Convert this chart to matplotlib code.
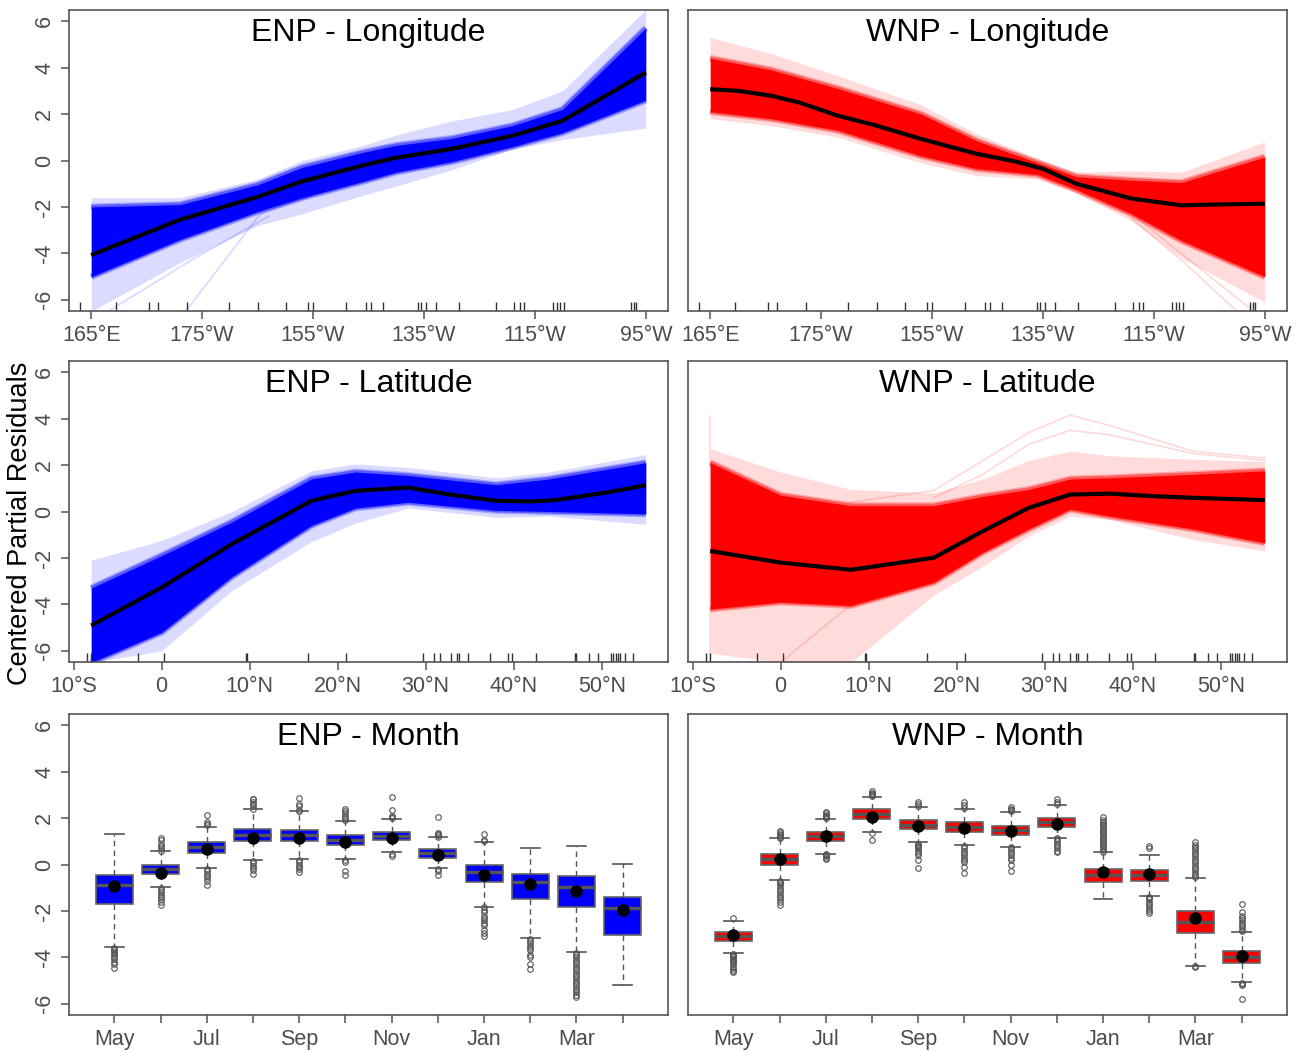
import numpy as np
import matplotlib.pyplot as plt
from matplotlib import transforms

plt.rcParams['font.family'] = ['Liberation Sans', 'DejaVu Sans']

#
# Longitude (degrees east, 0-360)
#
lon_ticks = [165, 185, 205, 225, 245, 265]
lon_labels = ["165°E", "175°W", "155°W", "135°W", "115°W", "95°W"]
lon_rug = [163.0, 169.5, 175.5, 177.1, 182.2, 189.8, 195.1, 200.2, 204.1, 205.0,
           210.9, 214.6, 215.5, 217.7, 224.0, 224.5, 225.4, 227.1, 231.3, 238.0,
           241.2, 242.3, 243.0, 248.2, 249.0, 249.6, 250.2, 262.3, 262.8, 263.3]

enp_lon_x = [165, 181, 195, 203, 214, 220, 230, 241, 250, 265]
enp_lon_fit = [-4.07, -2.55, -1.57, -0.9, -0.21, 0.12, 0.5, 1.07, 1.71, 3.79]
enp_lon_light_hi = [-1.6, -1.6, -0.8, 0.0, 0.65, 1.1, 1.7, 2.2, 3.0, 6.5]
enp_lon_dense_hi = [-2.0, -1.9, -1.05, -0.3, 0.35, 0.65, 0.95, 1.5, 2.2, 5.7]
enp_lon_dense_lo = [-5.0, -3.4, -2.2, -1.6, -0.9, -0.5, -0.05, 0.6, 1.2, 2.6]
enp_lon_light_lo = [-6.5, -4.4, -2.8, -2.3, -1.5, -1.1, -0.4, 0.5, 0.9, 1.4]
enp_lon_stray_x = [[168, 183, 197], [182, 195.5, 205]]
enp_lon_stray_y = [[-6.5, -4.3, -2.4], [-6.5, -2.3, -1.5]]

wnp_lon_x = [165, 170, 176, 181, 188, 195, 203, 213, 220, 225, 231, 241, 250, 255, 265]
wnp_lon_fit = [3.07, 3.0, 2.79, 2.5, 1.93, 1.5, 0.93, 0.29, -0.04, -0.36, -1.0,
               -1.64, -1.93, -1.9, -1.86]
wnp_lon_env_x = [165, 176, 188, 203, 213, 224, 231, 241, 250, 265]
wnp_lon_light_hi = [5.3, 4.6, 3.65, 2.4, 1.15, 0.1, -0.5, -0.45, -0.5, 0.8]
wnp_lon_dense_hi = [4.4, 3.9, 3.1, 2.0, 0.85, -0.1, -0.7, -0.85, -0.95, 0.15]
wnp_lon_dense_lo = [2.1, 1.8, 1.3, 0.2, -0.35, -0.6, -1.25, -2.3, -3.45, -5.0]
wnp_lon_light_lo = [1.8, 1.5, 1.0, -0.1, -0.65, -0.8, -1.4, -2.6, -4.2, -6.1]
wnp_lon_stray_x = [[241, 250, 260], [241, 252, 263]]
wnp_lon_stray_y = [[-2.5, -4.3, -6.5], [-2.3, -4.4, -6.5]]

#
# Latitude
#
lat_ticks = [-10, 0, 10, 20, 30, 40, 50]
lat_labels = ["10°S", "0", "10°N", "20°N", "30°N", "40°N", "50°N"]
lat_rug = [-8.5, -8.0, -2.7, 0.3, 9.6, 9.7, 16.6, 20.9, 29.7, 30.9, 31.6, 32.9,
           33.6, 33.8, 34.8, 37.3, 39.3, 39.8, 42.5, 46.9, 47.1, 48.5, 49.6,
           51.1, 51.3, 51.6, 51.8, 52.1, 52.6, 53.5]

enp_lat_x = [-8, 0, 8, 17, 22, 28, 32.4, 38, 42, 44.7, 50.6, 55]
enp_lat_fit = [-4.91, -3.27, -1.4, 0.46, 0.89, 1.03, 0.75, 0.46, 0.43, 0.49, 0.82, 1.13]
enp_lat_env_x = [-8, 0, 8, 17, 22, 28, 38, 44, 55]
enp_lat_light_hi = [-2.1, -1.25, 0.0, 1.75, 2.05, 1.9, 1.45, 1.7, 2.45]
enp_lat_dense_hi = [-3.3, -1.9, -0.45, 1.4, 1.7, 1.55, 1.15, 1.4, 2.1]
enp_lat_dense_lo = [-6.5, -5.2, -2.8, -0.6, 0.15, 0.4, 0.05, 0.0, -0.1]
enp_lat_light_lo = [-6.5, -6.0, -3.4, -1.3, -0.5, 0.15, -0.25, -0.2, -0.55]

wnp_lat_x = [-8, 0, 8, 17.4, 23, 28.2, 32.9, 37.4, 42.3, 46.8, 55]
wnp_lat_fit = [-1.7, -2.2, -2.51, -1.99, -0.84, 0.16, 0.73, 0.77, 0.66, 0.59, 0.49]
wnp_lat_env_x = [-8, 0, 8, 17.4, 23, 28.2, 32.9, 37.4, 46.8, 55]
wnp_lat_light_hi = [2.7, 1.7, 0.95, 0.8, 1.4, 2.2, 2.6, 2.4, 2.25, 2.15]
wnp_lat_dense_hi = [2.1, 0.7, 0.25, 0.25, 0.65, 0.95, 1.4, 1.45, 1.6, 1.75]
wnp_lat_dense_lo = [-4.2, -3.9, -4.05, -3.05, -1.75, -0.75, 0.1, -0.2, -0.75, -1.35]
wnp_lat_light_lo = [-6.1, -6.5, -6.5, -3.6, -2.35, -1.05, -0.2, -0.35, -1.2, -1.7]
wnp_lat_stray_x = [[-8, -8, 0, 8], [8, 17.4, 23, 28.2, 32.9, 37.4, 46.8, 55],
                   [17.4, 23, 28.2, 32.9, 37.4, 46.8, 55], [0, 8, 12]]
wnp_lat_stray_y = [[4.1, -6.5, -6.5, -6.5], [0.4, 0.9, 2.2, 3.4, 4.15, 3.7, 2.6, 2.3],
                   [0.6, 1.6, 2.9, 3.5, 3.3, 2.5, 2.2], [-6.5, -4.0, -2.8]]

#
# Month boxplots (May .. Apr)
#
months = ["May", "Jun", "Jul", "Aug", "Sep", "Oct", "Nov", "Dec", "Jan", "Feb", "Mar", "Apr"]

enp_q1 = [-1.71, -0.42, 0.5, 1.0, 1.0, 0.82, 1.05, 0.3, -0.76, -1.5, -1.82, -3.04]
enp_med = [-0.89, -0.2, 0.76, 1.26, 1.29, 1.05, 1.23, 0.5, -0.34, -0.75, -0.96, -1.86]
enp_q3 = [-0.46, 0.0, 0.97, 1.55, 1.5, 1.26, 1.4, 0.66, -0.04, -0.39, -0.5, -1.39]
enp_whislo = [-3.57, -0.99, -0.17, 0.19, 0.22, 0.22, 0.52, -0.17, -1.82, -3.15, -3.78, -5.19]
enp_whishi = [1.33, 0.57, 1.62, 2.39, 2.29, 1.89, 1.94, 1.19, 0.95, 0.72, 0.79, 0.01]
enp_mean = [-0.92, -0.36, 0.66, 1.16, 1.16, 0.95, 1.16, 0.39, -0.47, -0.85, -1.12, -1.94]
enp_fliers = [
    [-3.6, -3.65, -3.7, -3.75, -3.8, -3.9, -4.0, -4.05, -4.2, -4.3, -4.45],
    [0.6, 0.7, 0.8, 0.9, 1.05, 1.15, -1.0, -1.1, -1.2, -1.3, -1.4, -1.5, -1.6, -1.75],
    [1.7, 1.75, 1.85, 2.13, -0.2, -0.3, -0.4, -0.5, -0.6, -0.7, -0.87],
    [2.4, 2.5, 2.6, 2.7, 2.8, 2.83, 0.15, 0.05, -0.05, -0.15, -0.25, -0.42],
    [2.3, 2.35, 2.5, 2.6, 2.87, 0.2, 0.1, 0.0, -0.1, -0.2, -0.33],
    [1.9, 2.0, 2.1, 2.2, 2.3, 2.4, 0.2, 0.1, -0.3, -0.47],
    [2.0, 2.05, 2.1, 2.35, 2.9, 0.45, 0.37],
    [1.2, 1.25, 1.3, 1.35, 2.04, -0.2, -0.3, -0.45],
    [1.0, 1.05, 1.3, -1.85, -1.95, -2.05, -2.2, -2.3, -2.4, -2.5, -2.6, -2.8, -2.95, -3.07],
    [-3.2, -3.3, -3.4, -3.5, -3.6, -3.7, -3.9, -4.0, -4.3, -4.5],
    [-3.8, -3.9, -4.0, -4.1, -4.2, -4.3, -4.4, -4.5, -4.6, -4.7, -4.8, -4.9, -5.0,
     -5.1, -5.2, -5.3, -5.4, -5.5, -5.6, -5.7],
    [],
]

wnp_q1 = [-3.28, -0.03, 1.03, 1.96, 1.51, 1.39, 1.29, 1.62, -0.75, -0.69, -2.94, -4.26]
wnp_med = [-3.07, 0.22, 1.22, 2.18, 1.71, 1.61, 1.48, 1.84, -0.46, -0.44, -2.47, -4.0]
wnp_q3 = [-2.9, 0.44, 1.4, 2.37, 1.91, 1.82, 1.66, 2.02, -0.2, -0.22, -1.99, -3.71]
wnp_whislo = [-3.83, -0.67, 0.47, 1.4, 0.95, 0.82, 0.76, 1.16, -1.49, -1.35, -4.36, -5.08]
wnp_whishi = [-2.42, 1.12, 1.98, 2.91, 2.48, 2.41, 2.24, 2.55, 0.54, 0.42, -0.6, -2.9]
wnp_mean = [-3.04, 0.23, 1.23, 2.06, 1.66, 1.58, 1.45, 1.76, -0.34, -0.43, -2.29, -3.94]
wnp_fliers = [
    [-2.32, -3.85, -3.9, -3.95, -4.0, -4.05, -4.1, -4.15, -4.2, -4.3, -4.4, -4.5, -4.6, -4.65],
    [1.15, 1.2, 1.25, 1.3, 1.38, 1.45, -0.7, -0.75, -0.8, -0.9, -1.0, -1.1, -1.2, -1.3,
     -1.4, -1.5, -1.6, -1.73],
    [2.0, 2.05, 2.1, 2.15, 2.2, 2.25, 0.45, 0.4, 0.35, 0.3, 0.22],
    [2.95, 3.0, 3.05, 3.1, 3.15, 1.35, 1.05],
    [2.5, 2.6, 2.7, 0.9, 0.85, 0.8, 0.75, 0.7, 0.6, 0.5, 0.4, 0.2, -0.13],
    [2.45, 2.55, 2.7, 0.8, 0.7, 0.6, 0.5, 0.4, 0.3, 0.2, 0.1, -0.1, -0.35],
    [2.3, 2.35, 2.4, 2.46, 0.75, 0.7, 0.6, 0.5, 0.4, 0.3, 0.2, 0.0, -0.26],
    [2.6, 2.7, 2.8, 1.15, 1.1, 1.0, 0.9, 0.8, 0.7, 0.6, 0.55],
    [0.55, 0.62, 0.7, 0.78, 0.85, 0.92, 1.0, 1.08, 1.15, 1.22, 1.3, 1.38, 1.45, 1.52,
     1.6, 1.68, 1.75, 1.82, 1.9, 2.06],
    [0.7, 0.8, -1.4, -1.45, -1.5, -1.6, -1.7, -1.8, -1.9, -2.0, -2.1],
    [-0.55, -0.45, -0.35, -0.25, -0.15, -0.05, 0.05, 0.15, 0.25, 0.35, 0.45, 0.55,
     0.65, 0.75, 0.85, 0.97, -4.35, -4.4],
    [-2.85, -2.8, -2.7, -2.6, -2.5, -2.4, -2.3, -2.2, -2.05, -1.7, -5.1, -5.15, -5.2, -5.8],
]

#
# Figure layout
#
AXCOL = "#555555"
TXTCOL = "#4d4d4d"
fig = plt.figure(figsize=(12.97, 10.52), dpi=100)
col_left = [69 / 1297, 688 / 1297]
width = 599 / 1297
row_bottom = [1 - 311 / 1052, 1 - 662 / 1052, 1 - 1015 / 1052]
height = 301 / 1052
ylim = (-6.48, 6.48)


def make_axes(row, col, title):
    ax = fig.add_axes([col_left[col], row_bottom[row], width, height])
    ax.set_ylim(*ylim)
    for s in ax.spines.values():
        s.set_color(AXCOL)
        s.set_linewidth(1.2)
    ax.tick_params(colors=AXCOL, labelcolor=TXTCOL, length=6, width=1.1,
                   labelsize=15.5, pad=4)
    if col == 0:
        ax.set_yticks([-6, -4, -2, 0, 2, 4, 6])
        ax.set_yticklabels(["-6", "-4", "-2", "0", "2", "4", "6"], rotation=90,
                           va="center")
    else:
        ax.set_yticks([])
    ax.text(0.5, 0.925, title, transform=ax.transAxes, ha="center", va="center",
            fontsize=23, color="black")
    return ax


def draw_band(ax, x, env_x, light_hi, dense_hi, dense_lo, light_lo, fit, colour,
              stray_x=(), stray_y=()):
    ax.fill_between(env_x, light_lo, light_hi, color=colour, alpha=0.14, lw=0)
    for sx, sy in zip(stray_x, stray_y):
        ax.plot(sx, sy, color=colour, alpha=0.15, lw=1.2)
    # soft edges, then the dense core
    for a, w in [(0.25, 5), (0.45, 3)]:
        ax.plot(env_x, dense_hi, color=colour, alpha=a, lw=w, solid_capstyle="butt")
        ax.plot(env_x, dense_lo, color=colour, alpha=a, lw=w, solid_capstyle="butt")
    ax.fill_between(env_x, dense_lo, dense_hi, color=colour, alpha=1.0, lw=0)
    ax.plot(x, fit, color="black", lw=3, solid_capstyle="butt")


def draw_rug(ax, values):
    trans = transforms.blended_transform_factory(ax.transData, ax.transAxes)
    ax.vlines(values, 0, 0.03, transform=trans, color="#333333", lw=1)


# Longitude
ax = make_axes(0, 0, "ENP - Longitude")
draw_band(ax, enp_lon_x, enp_lon_x, enp_lon_light_hi, enp_lon_dense_hi,
          enp_lon_dense_lo, enp_lon_light_lo, enp_lon_fit, "blue",
          enp_lon_stray_x, enp_lon_stray_y)
draw_rug(ax, lon_rug)
ax.set_xlim(161, 269)
ax.set_xticks(lon_ticks)
ax.set_xticklabels(lon_labels)

ax = make_axes(0, 1, "WNP - Longitude")
draw_band(ax, wnp_lon_x, wnp_lon_env_x, wnp_lon_light_hi, wnp_lon_dense_hi,
          wnp_lon_dense_lo, wnp_lon_light_lo, wnp_lon_fit, "red",
          wnp_lon_stray_x, wnp_lon_stray_y)
draw_rug(ax, lon_rug)
ax.set_xlim(161, 269)
ax.set_xticks(lon_ticks)
ax.set_xticklabels(lon_labels)

# Latitude
ax = make_axes(1, 0, "ENP - Latitude")
draw_band(ax, enp_lat_x, enp_lat_env_x, enp_lat_light_hi, enp_lat_dense_hi,
          enp_lat_dense_lo, enp_lat_light_lo, enp_lat_fit, "blue")
draw_rug(ax, lat_rug)
ax.set_xlim(-10.52, 57.52)
ax.set_xticks(lat_ticks)
ax.set_xticklabels(lat_labels)

ax = make_axes(1, 1, "WNP - Latitude")
draw_band(ax, wnp_lat_x, wnp_lat_env_x, wnp_lat_light_hi, wnp_lat_dense_hi,
          wnp_lat_dense_lo, wnp_lat_light_lo, wnp_lat_fit, "red",
          wnp_lat_stray_x, wnp_lat_stray_y)
draw_rug(ax, lat_rug)
ax.set_xlim(-10.52, 57.52)
ax.set_xticks(lat_ticks)
ax.set_xticklabels(lat_labels)


# Month
def draw_box(ax, q1, med, q3, lo, hi, mean, fliers, colour):
    stats = []
    for i in range(len(months)):
        stats.append(dict(q1=q1[i], med=med[i], q3=q3[i], whislo=lo[i],
                          whishi=hi[i], fliers=fliers[i], label=months[i]))
    pos = np.arange(1, len(months) + 1)
    ax.bxp(stats, positions=pos, widths=0.8, patch_artist=True,
           boxprops=dict(facecolor=colour, edgecolor="#666666", lw=1.2),
           medianprops=dict(color="#555555", lw=2.4),
           whiskerprops=dict(color="#555555", lw=1, ls=(0, (4, 3))),
           capprops=dict(color="#555555", lw=1.2),
           flierprops=dict(marker="o", mfc="none", mec="#555555", ms=4, mew=0.8),
           capwidths=0.4)
    ax.plot(pos, mean, "o", color="black", ms=8, zorder=5)
    ax.set_xlim(0.02, 12.98)
    ax.set_xticks(pos)
    ax.set_xticklabels([m if i % 2 == 0 else "" for i, m in enumerate(months)])
    ax.set_ylim(*ylim)


ax = make_axes(2, 0, "ENP - Month")
draw_box(ax, enp_q1, enp_med, enp_q3, enp_whislo, enp_whishi, enp_mean, enp_fliers, "blue")
ax = make_axes(2, 1, "WNP - Month")
draw_box(ax, wnp_q1, wnp_med, wnp_q3, wnp_whislo, wnp_whishi, wnp_mean, wnp_fliers, "red")

fig.text(20 / 1297, 1 - 523 / 1052, "Centered Partial Residuals", rotation=90,
         ha="center", va="center", fontsize=19.5, color="black")

fig.savefig("out.png", dpi=100)
